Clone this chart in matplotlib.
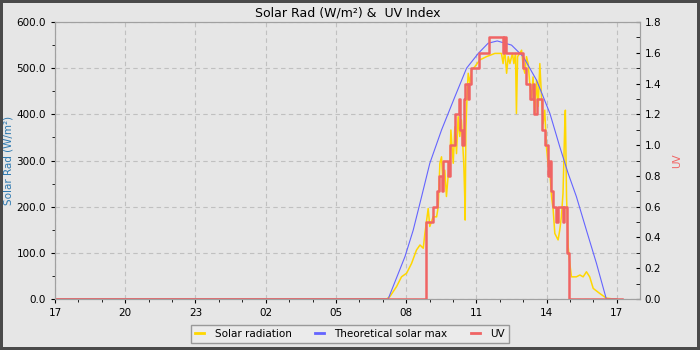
import numpy as np
import matplotlib
matplotlib.use('Agg')
import matplotlib.pyplot as plt
from matplotlib.ticker import FixedLocator, MultipleLocator, FormatStrFormatter

# hours since 17:00 on day one
sol_h = [0.0, 13.88, 14.16, 14.30, 14.59, 14.80, 15.02, 15.23, 15.44, 15.59, 15.73,
         15.80, 15.94, 16.01, 16.15, 16.30, 16.37, 16.44, 16.51, 16.58, 16.65,
         16.72, 16.79, 16.87, 16.91, 17.01, 17.08, 17.15, 17.22, 17.29, 17.36,
         17.46, 17.51, 17.52, 17.55, 17.61, 17.65, 17.72, 17.79, 17.93, 18.15,
         18.43, 18.79, 19.07, 19.14, 19.21, 19.29, 19.36, 19.43, 19.54, 19.60,
         19.67, 19.71, 19.76, 19.85, 19.93, 20.00, 20.07, 20.14, 20.21, 20.28,
         20.35, 20.42, 20.50, 20.57, 20.64, 20.71, 20.78, 20.85, 20.92, 20.99,
         21.06, 21.14, 21.21, 21.28, 21.35, 21.42, 21.49, 21.56, 21.63, 21.70,
         21.78, 21.80, 21.85, 21.92, 21.99, 22.06, 22.27, 22.42, 22.56, 22.70,
         22.84, 22.99, 23.27, 23.55, 23.84, 24.0]
sol_w = [0, 0, 0, 5, 27, 48, 56, 77, 106, 117, 110,
         142, 196, 157, 178, 178, 200, 294, 308, 243, 279,
         222, 265, 294, 366, 294, 373, 315, 395, 352, 388,
         294, 207, 171, 366, 453, 489, 467, 496, 503, 518,
         525, 532, 532, 510, 539, 489, 525, 510, 532, 510,
         532, 402, 525, 532, 539, 503, 489, 525, 510, 467,
         431, 481, 402, 474, 417, 510, 438, 380, 409, 330,
         294, 272, 222, 193, 142, 135, 128, 149, 178, 229,
         388, 409, 222, 113, 77, 48, 48, 52, 48, 59,
         48, 23, 12, 2, 0, 0]

max_h = [0.0, 14.23, 14.95, 15.30, 15.66, 16.01, 16.51, 17.08, 17.58, 18.08, 18.50,
         18.89, 19.50, 20.00, 20.57, 21.14, 21.56, 21.92, 22.27, 22.70, 23.13,
         23.44, 23.55, 24.0]
max_w = [0, 0, 92, 149, 222, 294, 366, 438, 500, 532, 554,
         559, 550, 525, 474, 402, 330, 272, 222, 149, 77,
         20, 0, 0]

uv_h = [0.0, 15.84, 16.15, 16.33, 16.41, 16.51, 16.58, 16.72, 16.79, 16.87, 17.01,
        17.08, 17.18, 17.25, 17.32, 17.39, 17.48, 17.53, 17.62, 17.69, 17.79,
        18.12, 18.54, 19.14, 19.17, 19.26, 20.00, 20.14, 20.31, 20.40, 20.45,
        20.57, 20.82, 20.95, 21.04, 21.14, 21.18, 21.28, 21.42, 21.49, 21.68,
        21.73, 21.88, 21.96, 24.2]
uv_v = [0, 0.5, 0.6, 0.7, 0.8, 0.7, 0.9, 0.9, 0.8, 1.0, 1.0,
        1.2, 1.2, 1.3, 1.1, 1.0, 1.3, 1.4, 1.3, 1.4, 1.5,
        1.6, 1.7, 1.6, 1.7, 1.6, 1.5, 1.4, 1.3, 1.4, 1.2,
        1.3, 1.1, 1.0, 0.8, 0.9, 0.7, 0.6, 0.5, 0.6, 0.5,
        0.6, 0.3, 0, 0]

hour_ticks = [0, 3, 6, 9, 12, 15, 18, 21, 24]
hour_labels = ['17', '20', '23', '02', '05', '08', '11', '14', '17']

bg = '#e6e6e6'
fig = plt.figure(figsize=(7, 3.5), dpi=100)
fig.patch.set_facecolor(bg)
fig.patch.set_edgecolor('#4a4a4a')
fig.patch.set_linewidth(4)
ax1 = fig.add_axes([0.0786, 0.1457, 0.8354, 0.7914])
ax1.set_facecolor(bg)

l1, = ax1.plot(sol_h, sol_w, color='#ffd700', lw=1.1, label='Solar radiation')
l2, = ax1.plot(max_h, max_w, color='#6464ff', lw=0.8, label='Theoretical solar max')
ax1.set_xlim(0, 24.98)
ax1.set_ylim(0, 600)

ax2 = ax1.twinx()
l3, = ax2.plot(uv_h, uv_v, color='#f06464', lw=1.8, drawstyle='steps-post', label='UV')
ax2.set_ylim(0, 1.8)

for a in (ax1, ax2):
  for s in a.spines.values():
    s.set_color('#a0a0a0')

ax1.xaxis.set_major_locator(FixedLocator(hour_ticks))
ax1.set_xticklabels(hour_labels)
ax1.xaxis.set_minor_locator(MultipleLocator(1))
ax1.yaxis.set_major_locator(MultipleLocator(100))
ax1.yaxis.set_minor_locator(MultipleLocator(50))
ax1.yaxis.set_major_formatter(FormatStrFormatter('%.1f'))
ax1.tick_params(which='both', labelsize=7.5, length=3, direction='out')
ax1.tick_params(which='minor', length=2.5)

ax2.yaxis.set_major_locator(MultipleLocator(0.2))
ax2.yaxis.set_minor_locator(MultipleLocator(0.1))
ax2.yaxis.set_major_formatter(FormatStrFormatter('%.1f'))
ax2.tick_params(which='both', labelsize=7.5, length=3, direction='in')

ax1.grid(True, which='major', color='#c0c0c0', linestyle=(0, (4, 3)), lw=0.8)
ax1.set_axisbelow(True)

ax1.set_ylabel('Solar Rad (W/m²)', color='#2d79b0', fontsize=7.5, labelpad=2)
ax2.set_ylabel('UV', color='#f06464', fontsize=7.5, labelpad=8)
ax1.set_title('Solar Rad (W/m²) &  UV Index', fontsize=9, pad=4)

leg = fig.legend([l1, l2, l3], ['Solar radiation', 'Theoretical solar max', 'UV'],
                 loc='upper center', bbox_to_anchor=(0.5, 0.072), ncol=3,
                 fontsize=7.5, handlelength=0.9, fancybox=False, framealpha=1,
                 borderaxespad=0, columnspacing=2.2, handletextpad=1.0,
                 borderpad=0.4)
leg.get_frame().set_facecolor('#ebebeb')
leg.get_frame().set_edgecolor('#999999')
for h in leg.get_lines():
  h.set_linewidth(2)

fig.savefig('out.png', dpi=100, facecolor=fig.get_facecolor(), edgecolor=fig.patch.get_edgecolor())
